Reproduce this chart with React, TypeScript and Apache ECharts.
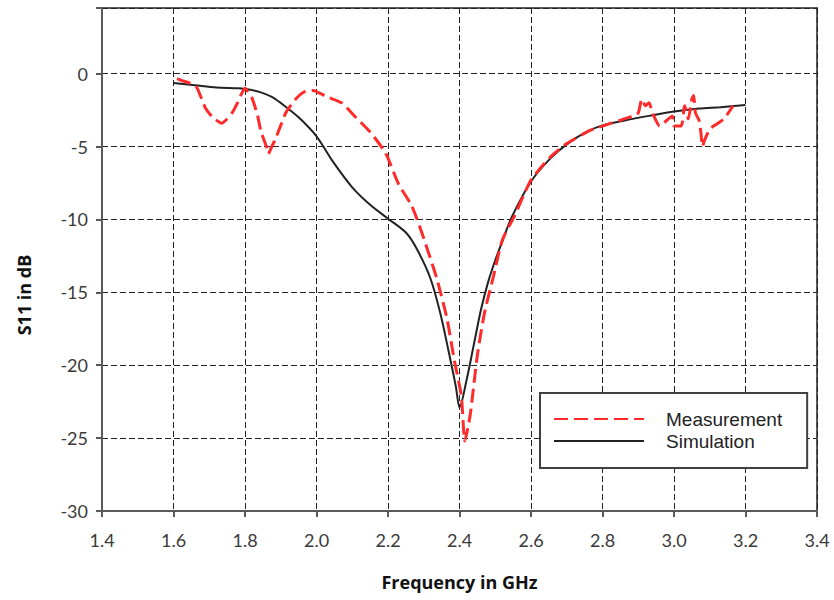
import React, { useEffect, useRef } from "react";
import * as echarts from "echarts";

const xTicks = [1.4, 1.6, 1.8, 2.0, 2.2, 2.4, 2.6, 2.8, 3.0, 3.2, 3.4];
const yTicks = [-30, -25, -20, -15, -10, -5, 0];

const simFreq = [1.6, 1.66, 1.72, 1.78, 1.8, 1.84, 1.875, 1.91, 1.95, 2.0, 2.045, 2.1, 2.15, 2.2, 2.25, 2.28, 2.318, 2.346, 2.37, 2.39, 2.4, 2.42, 2.44, 2.46, 2.48, 2.5, 2.52, 2.545, 2.6, 2.655, 2.7, 2.755, 2.8, 2.865, 2.93, 3.0, 3.07, 3.13, 3.2];
const simDb = [-0.65, -0.8, -0.95, -1.0, -1.05, -1.25, -1.6, -2.2, -3.0, -4.3, -6.0, -7.8, -9.0, -9.95, -10.9, -12.0, -14.0, -16.4, -19.1, -21.5, -22.9, -21.0, -18.6, -16.2, -14.3, -12.8, -11.5, -9.9, -7.4, -5.8, -4.85, -4.0, -3.55, -3.2, -2.9, -2.6, -2.4, -2.3, -2.15];

const measFreq = [1.61, 1.62, 1.65, 1.665, 1.675, 1.69, 1.71, 1.735, 1.75, 1.765, 1.78, 1.79, 1.8, 1.81, 1.82, 1.835, 1.845, 1.86, 1.865, 1.875, 1.885, 1.9, 1.915, 1.94, 1.965, 1.99, 2.03, 2.07, 2.11, 2.15, 2.19, 2.2, 2.23, 2.265, 2.28, 2.3, 2.337, 2.365, 2.385, 2.405, 2.415, 2.43, 2.45, 2.47, 2.495, 2.52, 2.555, 2.6, 2.655, 2.7, 2.765, 2.8, 2.85, 2.885, 2.9, 2.91, 2.92, 2.93, 2.94, 2.96, 2.98, 2.995, 3.0, 3.02, 3.03, 3.04, 3.05, 3.055, 3.06, 3.07, 3.075, 3.08, 3.085, 3.1, 3.12, 3.14, 3.16, 3.165];
const measDb = [-0.35, -0.45, -0.7, -0.95, -1.5, -2.4, -3.0, -3.4, -3.1, -2.65, -1.95, -1.4, -1.0, -1.3, -1.7, -2.85, -4.0, -5.0, -5.5, -5.0, -4.5, -3.55, -2.65, -1.8, -1.26, -1.15, -1.6, -2.0, -3.0, -4.0, -5.3, -5.8, -7.6, -9.0, -9.9, -11.3, -14.1, -16.8, -19.6, -22.1, -25.2, -23.4, -19.3, -16.4, -13.9, -11.4, -9.7, -7.3, -5.7, -4.8, -3.9, -3.6, -3.2, -2.9, -2.7, -1.75, -2.2, -2.0, -2.7, -3.6, -3.2, -2.9, -3.6, -3.6, -2.2, -3.1, -1.75, -1.5, -2.7, -3.2, -4.0, -5.0, -4.6, -3.8, -3.45, -3.1, -2.4, -2.2];

const seriesNames = ["Measurement", "Simulation"];
const xName = "Frequency in GHz";
const yName = "S11 in dB";

export default function App() {
  const ref = useRef<HTMLDivElement>(null);
  useEffect(() => {
    if (!ref.current) return;
    const chart = echarts.init(ref.current, undefined, { renderer: "svg" });
    const tickFont = { fontFamily: "Lato", fontSize: 18, color: "#3a3a3a" };
    chart.setOption({
      animation: false,
      backgroundColor: "#ffffff",
      grid: {
        left: 102,
        right: 17,
        top: 8,
        bottom: 89,
        show: true,
        borderColor: "#5a5a5a",
        borderWidth: 2,
      },
      xAxis: {
        type: "value",
        min: xTicks[0],
        max: xTicks[xTicks.length - 1],
        interval: 0.2,
        name: xName,
        nameLocation: "middle",
        nameGap: 62,
        nameTextStyle: { fontFamily: "Open Sans", fontWeight: "bold", fontSize: 18, color: "#111" },
        axisLine: { show: true, onZero: false, lineStyle: { color: "#5a5a5a", width: 2 } },
        axisTick: { show: true, inside: false, length: 6, lineStyle: { color: "#5a5a5a", width: 2 } },
        axisLabel: { ...tickFont, margin: 20, formatter: (v: number) => v.toFixed(1) },
        splitLine: { show: true, lineStyle: { color: "#222", width: 1, type: [6, 3] } },
      },
      yAxis: {
        type: "value",
        min: yTicks[0],
        max: 4.5,
        interval: 5,
        axisLine: { show: true, onZero: false, lineStyle: { color: "#5a5a5a", width: 2 } },
        axisTick: { show: true, inside: false, length: 6, lineStyle: { color: "#5a5a5a", width: 2 } },
        axisLabel: {
          ...tickFont,
          margin: 14,
          formatter: (v: number) => (yTicks.some((t) => Math.abs(t - v) < 1e-6) ? String(Math.round(v)) : ""),
        },
        splitLine: { show: true, lineStyle: { color: "#222", width: 1, type: [6, 3] } },
      },
      legend: {
        orient: "vertical",
        left: 540,
        top: 393,
        data: seriesNames,
        itemWidth: 90,
        itemHeight: 14,
        itemGap: 2,
        padding: [16, 25, 17, 13],
        backgroundColor: "#ffffff",
        borderColor: "#404040",
        borderWidth: 2,
        itemStyle: { opacity: 0 },
        textStyle: { fontFamily: "Liberation Sans", fontSize: 19, color: "#222", padding: [0, 0, 0, 17], lineHeight: 20 },
      },
      graphic: [
        {
          type: "text",
          x: 24,
          y: 295,
          rotation: Math.PI / 2,
          style: {
            text: yName,
            font: "bold 18px 'Open Sans'",
            fill: "#111",
            align: "center",
            verticalAlign: "middle",
          },
        },
      ],
      series: [
        {
          name: seriesNames[0],
          type: "line",
          symbol: "none",
          smooth: 0.2,
          z: 3,
          data: measFreq.map((f, i) => [f, measDb[i]]),
          lineStyle: { color: "#ff2a2a", width: 3, type: [14, 6] },
          itemStyle: { color: "#ff2a2a" },
        },
        {
          name: seriesNames[1],
          type: "line",
          symbol: "none",
          smooth: 0.3,
          z: 2,
          data: simFreq.map((f, i) => [f, simDb[i]]),
          lineStyle: { color: "#222222", width: 2 },
          itemStyle: { color: "#222222" },
        },
      ],
    });
    return () => chart.dispose();
  }, []);
  return <div ref={ref} style={{ position: "absolute", left: 0, top: 0, width: 834, height: 600 }} />;
}
